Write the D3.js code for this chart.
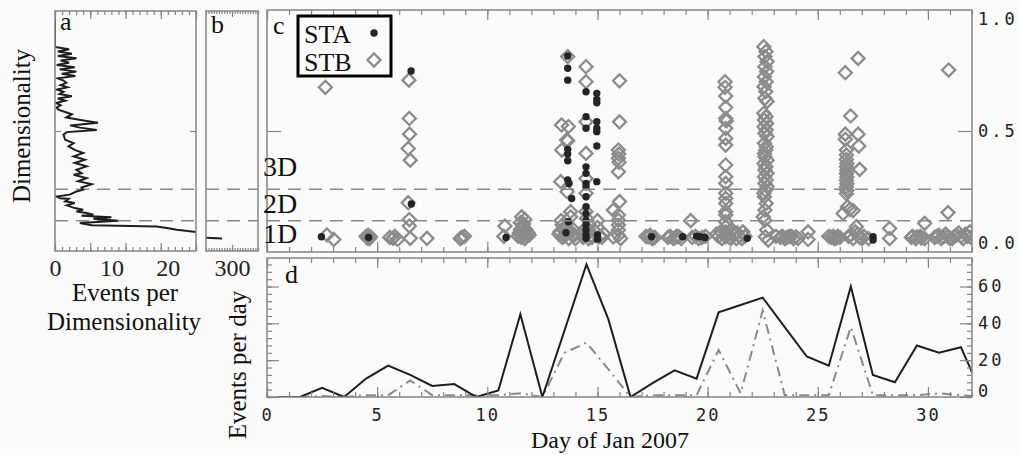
<!DOCTYPE html>
<html><head><meta charset="utf-8">
<script src="https://cdn.jsdelivr.net/npm/d3@7"></script>
<style>body{margin:0;background:#fbfbfb;} svg{display:block}</style>
</head><body><svg id="chart" width="1019" height="455"></svg>
<script>
// ---------------- DATA ----------------
const days = [0.5,1.5,2.5,3.5,4.5,5.5,6.5,7.5,8.5,9.5,10.5,11.5,12.5,13.5,14.5,15.5,16.5,17.5,18.5,19.5,20.5,21.5,22.5,23.5,24.5,25.5,26.5,27.5,28.5,29.5,30.5,31.5,32.5];
const seriesSolid   = [0,0,5,0,10,17,12,6,7,0,3.5,45,0,36,72,42,0,7.5,14.5,10,46,50,54,38,22,17,60,12,8,28,24,27,0];
const seriesDashDot = [0,0,0.5,0,1,1,9,1,1,1,1,2,0,24,29.5,15,0,1,1,1,25.5,2,47,1,1,1,38,1,1,1,2,1,0];

const staPoints = [
 [2.47,0.028],[4.61,0.025],[6.54,0.768],[6.55,0.174],[10.85,0.025],
 [13.65,0.835],[13.65,0.78],[13.65,0.727],[13.65,0.418],[13.65,0.397],[13.65,0.367],[13.65,0.281],[13.71,0.266],[13.83,0.199],[13.68,0.095],[13.57,0.046],
 [14.48,0.675],[14.48,0.564],[14.48,0.512],[14.48,0.34],[14.48,0.311],[14.48,0.266],[14.48,0.251],[14.48,0.207],[14.48,0.162],[14.48,0.132],[14.48,0.102],[14.48,0.08],[14.48,0.058],[14.48,0.036],[14.48,0.021],
 [14.97,0.668],[14.97,0.641],[14.97,0.626],[14.97,0.541],[14.97,0.512],[14.97,0.497],[14.97,0.433],[14.97,0.274],[15.0,0.036],[15.0,0.016],
 [17.46,0.028],[18.87,0.028],[19.5,0.031],[19.66,0.028],[19.88,0.025],[21.8,0.021],[27.51,0.028],[27.51,0.013]
];

const stbPoints = [
 [2.65,0.695],[2.72,0.036],[3.03,0.016],
 [4.5,0.03],[4.65,0.02],[4.6,0.035],[4.7,0.028],[4.55,0.022],
 [5.57,0.025],[5.72,0.021],[5.93,0.016],[5.8,0.03],
 [6.44,0.727],[6.46,0.556],[6.47,0.486],[6.41,0.422],[6.5,0.37],[6.41,0.18],[6.46,0.105],[6.46,0.076],[6.5,0.021],
 [7.26,0.021],[8.77,0.02],[8.96,0.03],[8.85,0.025],
 [10.8,0.076],[10.75,0.03],
 [11.56,0.117],[11.7,0.105],[11.5,0.09],[11.6,0.07],[11.75,0.06],[11.45,0.045],[11.65,0.04],[11.8,0.03],[11.55,0.025],[11.7,0.02],[11.85,0.045],[11.4,0.03],[11.6,0.05],[11.9,0.035],[11.5,0.06],[11.65,0.085],
 [13.65,0.832],[13.68,0.52],[13.65,0.457],[13.38,0.415],[13.37,0.527],[13.6,0.46],[13.33,0.274],[13.62,0.229],[13.78,0.14],[13.78,0.117],[13.4,0.08],[13.25,0.04],[13.5,0.03],[13.7,0.02],[13.85,0.035],[13.6,0.05],[13.45,0.06],[13.9,0.06],[14.0,0.02],[13.4,0.025],
 [13.3,0.05],[13.55,0.04],[13.8,0.05],[13.95,0.035],[13.35,0.1],[13.5,0.07],
 [14.48,0.787],[14.48,0.72],[14.48,0.541],[14.48,0.4],[14.48,0.288],[14.48,0.222],[14.48,0.14],[14.5,0.11],[14.4,0.06],[14.55,0.04],[14.35,0.025],[14.6,0.02],[14.7,0.035],
 [14.3,0.04],[14.45,0.05],[14.75,0.025],[14.6,0.06],
 [15.0,0.1],[15.0,0.07],[15.1,0.03],[14.9,0.05],[15.2,0.025],[15.3,0.04],
 [16.0,0.724],[16.0,0.541],[15.95,0.415],[15.97,0.397],[15.95,0.378],[15.98,0.36],[15.95,0.318],[16.0,0.185],[15.72,0.147],[15.95,0.125],[15.95,0.102],[15.95,0.08],[15.95,0.058],[15.72,0.028],[15.95,0.035],[16.05,0.02],
 [17.3,0.028],[17.5,0.02],[17.4,0.035],[17.2,0.03],[17.6,0.025],[17.45,0.022],
 [18.2,0.025],[18.45,0.02],[18.6,0.03],[18.8,0.02],[18.3,0.03],[18.55,0.025],[18.7,0.028],
 [19.23,0.1],[19.3,0.025],[19.6,0.02],[19.9,0.03],[19.45,0.03],[19.75,0.025],
 [20.79,0.72],[20.79,0.695],[20.82,0.656],[20.82,0.605],[20.82,0.556],[20.85,0.545],[20.82,0.512],[20.82,0.467],[20.82,0.437],[20.82,0.348],[20.82,0.296],[20.82,0.266],[20.82,0.222],[20.82,0.199],[20.82,0.177],[20.82,0.14],[20.82,0.125],[20.82,0.095],[20.82,0.073],[20.82,0.05],[20.82,0.028],
 [20.5,0.03],[20.65,0.02],[21.0,0.025],[21.2,0.04],[21.3,0.02],[21.1,0.06],[21.45,0.03],[21.6,0.05],[21.55,0.02],
 [20.4,0.04],[20.6,0.05],[20.9,0.035],[21.05,0.02],[21.35,0.045],[21.7,0.03],
 [22.55,0.876],[22.65,0.855],[22.6,0.832],[22.7,0.81],[22.6,0.787],[22.68,0.765],[22.58,0.742],[22.66,0.72],[22.56,0.698],[22.64,0.676],[22.6,0.646],[22.7,0.632],[22.55,0.579],[22.65,0.564],[22.58,0.549],[22.68,0.534],[22.56,0.519],[22.66,0.504],[22.6,0.49],[22.7,0.475],[22.58,0.445],[22.66,0.43],[22.64,0.415],[22.58,0.4],[22.6,0.385],[22.7,0.37],[22.56,0.355],[22.64,0.34],[22.6,0.326],[22.7,0.311],[22.58,0.296],[22.66,0.281],[22.6,0.266],[22.7,0.252],[22.62,0.236],[22.55,0.222],[22.58,0.207],[22.66,0.177],[22.6,0.147],[22.52,0.117],[22.6,0.102],[22.68,0.058],[22.62,0.028],[22.75,0.013],
 [23.3,0.025],[23.5,0.02],[23.7,0.03],[23.9,0.02],[24.0,0.028],[23.1,0.03],[23.4,0.03],[23.6,0.025],[23.8,0.03],[24.1,0.02],
 [24.56,0.05],[24.56,0.016],
 [25.6,0.025],[25.75,0.02],[25.9,0.03],[25.5,0.03],[25.7,0.03],[25.85,0.022],[26.0,0.025],
 [26.25,0.76],[26.83,0.824],[26.49,0.567],[26.25,0.486],[26.83,0.486],[26.25,0.463],[26.86,0.433],[26.3,0.415],[26.3,0.393],[26.3,0.373],[26.32,0.355],[26.3,0.34],[26.32,0.325],[26.3,0.31],[26.32,0.295],[26.3,0.28],[26.32,0.265],[26.3,0.25],[26.32,0.235],[26.3,0.22],[26.9,0.329],[26.35,0.162],[26.15,0.132],[26.45,0.15],[26.6,0.145],[26.75,0.073],[26.7,0.05],[26.4,0.03],[26.6,0.02],[26.9,0.025],[27.1,0.03],[27.3,0.02],
 [26.5,0.035],[26.8,0.04],[27.0,0.02],
 [28.26,0.065],[28.26,0.02],
 [29.25,0.025],[29.45,0.02],[29.65,0.03],[29.85,0.088],[29.85,0.02],[29.3,0.03],[29.5,0.028],[29.7,0.022],
 [30.4,0.03],[30.6,0.02],[30.8,0.04],[30.94,0.772],[30.91,0.136],[31.0,0.02],[31.2,0.03],[31.4,0.045],[31.6,0.02],[31.8,0.03],[31.9,0.05],
 [30.3,0.025],[30.5,0.035],[30.7,0.028],[30.9,0.03],[31.1,0.02],[31.3,0.035],[31.5,0.03],[31.7,0.04],[31.95,0.025]
];

const histDim = [1.00,0.91,0.875,0.865,0.855,0.845,0.835,0.825,0.815,0.805,0.795,0.785,0.775,0.765,0.755,0.745,0.735,0.725,0.715,0.705,0.695,0.685,0.675,0.665,0.655,0.645,0.635,0.625,0.615,0.605,0.595,0.575,0.56,0.545,0.537,0.525,0.515,0.505,0.495,0.484,0.461,0.446,0.431,0.416,0.402,0.387,0.372,0.357,0.342,0.327,0.312,0.305,0.29,0.276,0.263,0.248,0.238,0.23,0.216,0.208,0.2,0.197,0.186,0.179,0.168,0.156,0.149,0.141,0.134,0.126,0.122,0.115,0.108,0.1,0.089,0.079,0.074,0.067,0.059,0.049,0.04,0.02];
const histCount = [0,0,0,2.5,0.5,3.0,0.5,3.8,1.0,2.5,0.3,3.5,0.8,3.8,1.2,3.6,0.5,1.5,2.0,1.0,2.2,0.3,1.5,0.8,3.0,0.5,1.8,0.2,1.0,0.3,0.6,3.0,2.0,5.6,7.6,2.7,4.4,7.4,2.1,1.5,1.8,3.3,2.4,3.5,5.0,3.3,5.3,3.5,5.6,3.8,4.7,3.3,5.6,4.1,6.5,4.7,5.0,3.8,2.6,0.3,0.9,2.4,1.8,3.5,2.1,3.5,5.0,3.8,5.6,6.8,4.7,10.0,6.8,11.2,4.4,6.5,18.0,19.8,21.6,25.1,120,281];

const dimThresholds = [0.24, 0.1];
const dimClassLabels = ["3D","2D","1D"];
const dayTicks = [0,5,10,15,20,25,30];
const dimTicks = [0.0,0.5,1.0];
const eventTicks = [0,20,40,60];
const histATicks = [0,10,20];
const histBTicks = [300];
const legendNames = ["STA","STB"];

// ---------------- LAYOUT ----------------
const svg = d3.select("#chart");
const serif = "'Liberation Serif','Times New Roman',serif";
const mono = "'DejaVu Sans Mono',monospace";
const borderCol = "#858585";
const stbCol = "#8c8c8c";
const staCol = "#242424";

const C = {l:267, r:972, t:10, b:252};
const D = {l:267, r:972, t:258, b:397};
const A = {l:55, r:196, t:11, b:251};
const B = {l:206, r:258, t:11, b:251};

const x = d3.scaleLinear([0,32],[C.l,C.r]);
const yDim = d3.scaleLinear([-0.04,1.04],[C.b,C.t]);
const yEv = d3.scaleLinear([0,75.5],[D.b,D.t]);
const xa = d3.scaleLinear([0,25],[A.l,A.r]);
const xb = d3.scaleLinear([250,350],[B.l,B.r]);

svg.append("rect").attr("width",1019).attr("height",455).attr("fill","#fbfbfb");

const defs = svg.append("defs");
function clip(id,p){defs.append("clipPath").attr("id",id).append("rect")
  .attr("x",p.l).attr("y",p.t).attr("width",p.r-p.l).attr("height",p.b-p.t);}
clip("ca",A);clip("cb",B);clip("cc",C);clip("cd",D);

function styleAxis(g){g.select(".domain").remove();
  g.selectAll(".tick line").attr("stroke",borderCol).attr("stroke-width",1.2);}
function ticks(axisFn, scale, vals, size, tx, ty){
  svg.append("g").attr("transform",`translate(${tx},${ty})`)
    .call(axisFn(scale).tickValues(vals).tickSize(size).tickFormat(""))
    .call(styleAxis).selectAll("text").remove();
}

// ---------- Panel c : scatter ----------
const gc = svg.append("g").attr("clip-path","url(#cc)");
dimThresholds.forEach(t=>{
  [[A.l,A.r],[B.l,B.r],[C.l,C.r]].forEach(([l,r])=>{
    svg.append("line").attr("x1",l).attr("x2",r).attr("y1",yDim(t)).attr("y2",yDim(t))
      .attr("stroke","#8a8a8a").attr("stroke-width",1.5).attr("stroke-dasharray","13,8");
  });
});
const diamond = "M0,-6.5L6.5,0L0,6.5L-6.5,0Z";
gc.selectAll("path.stb").data(stbPoints).join("path").attr("class","stb")
  .attr("d",diamond).attr("transform",d=>`translate(${x(d[0])},${yDim(d[1])})`)
  .attr("fill","none").attr("stroke",stbCol).attr("stroke-width",2.3);
gc.selectAll("circle.sta").data(staPoints).join("circle").attr("class","sta")
  .attr("cx",d=>x(d[0])).attr("cy",d=>yDim(d[1])).attr("r",3.7).attr("fill",staCol);

// ---------- Panel d : lines ----------
const gd = svg.append("g").attr("clip-path","url(#cd)");
const lineEv = d3.line().x(d=>x(d[0])).y(d=>yEv(d[1]));
gd.append("path").datum(days.map((d,i)=>[d,seriesDashDot[i]])).attr("d",lineEv)
  .attr("fill","none").attr("stroke","#8a8a8a").attr("stroke-width",2).attr("stroke-dasharray","10,5,2,5");
gd.append("path").datum(days.map((d,i)=>[d,seriesSolid[i]])).attr("d",lineEv)
  .attr("fill","none").attr("stroke","#1e1e1e").attr("stroke-width",2);

// ---------- Panels a,b : histogram ----------
const histPts = histDim.map((d,i)=>[histCount[i],d]);
svg.append("g").attr("clip-path","url(#ca)").append("path").datum(histPts)
  .attr("d",d3.line().x(d=>xa(d[0])).y(d=>yDim(d[1])))
  .attr("fill","none").attr("stroke","#1e1e1e").attr("stroke-width",2);
svg.append("g").attr("clip-path","url(#cb)").append("path").datum(histPts)
  .attr("d",d3.line().x(d=>xb(d[0])).y(d=>yDim(d[1])))
  .attr("fill","none").attr("stroke","#1e1e1e").attr("stroke-width",2);

// ---------- borders ----------
[A,B,C,D].forEach(p=>svg.append("rect").attr("x",p.l).attr("y",p.t)
  .attr("width",p.r-p.l).attr("height",p.b-p.t).attr("fill","none")
  .attr("stroke",borderCol).attr("stroke-width",1.5));

// ---------- ticks ----------
const dayMinor = d3.range(0,33,1);
[C.t,D.t].forEach(ty=>{
  ticks(d3.axisBottom,x,dayMinor,5,0,ty);
  ticks(d3.axisBottom,x,dayTicks,10,0,ty);
});
[C.b,D.b].forEach(ty=>{
  ticks(d3.axisTop,x,dayMinor,5,0,ty);
  ticks(d3.axisTop,x,dayTicks,10,0,ty);
});
ticks(d3.axisRight,yDim,[0.5],14,C.l,0);
ticks(d3.axisLeft,yDim,[0.5],14,C.r,0);
const evMinor = d3.range(0,76,4);
ticks(d3.axisRight,yEv,evMinor,5,D.l,0);
ticks(d3.axisRight,yEv,eventTicks,12,D.l,0);
ticks(d3.axisLeft,yEv,evMinor,5,D.r,0);
ticks(d3.axisLeft,yEv,eventTicks,12,D.r,0);
const aMinor = d3.range(0,25.01,1.25), aMajor = d3.range(0,25.01,6.25);
ticks(d3.axisBottom,xa,aMinor,4,0,A.t); ticks(d3.axisBottom,xa,aMajor,8,0,A.t);
ticks(d3.axisTop,xa,aMinor,4,0,A.b); ticks(d3.axisTop,xa,aMajor,8,0,A.b);
ticks(d3.axisRight,yDim,[0.5],6,A.l,0); ticks(d3.axisLeft,yDim,[0.5],6,A.r,0);
const bMinor = d3.range(250,351,5);
ticks(d3.axisBottom,xb,bMinor,3,0,B.t); ticks(d3.axisBottom,xb,histBTicks,6,0,B.t);
ticks(d3.axisTop,xb,bMinor,3,0,B.b); ticks(d3.axisTop,xb,histBTicks,6,0,B.b);

// ---------- tick labels ----------
function labelAxis(g,font,size,spacing){
  g.select(".domain").remove(); g.selectAll(".tick line").remove();
  g.selectAll("text").attr("font-family",font).attr("font-size",size)
    .attr("fill","#222").attr("letter-spacing",spacing);
}
svg.append("g").attr("transform",`translate(0,${D.b})`)
  .call(d3.axisBottom(x).tickValues(dayTicks).tickSize(0).tickPadding(12).tickFormat(d3.format("d")))
  .call(g=>labelAxis(g,mono,17,2));
svg.append("g").attr("transform",`translate(${C.r},0)`)
  .call(d3.axisRight(yDim).tickValues(dimTicks).tickSize(0).tickPadding(6).tickFormat(d3.format(".1f")))
  .call(g=>labelAxis(g,mono,17,3));
const evAx = svg.append("g").attr("transform",`translate(${D.r},0)`)
  .call(d3.axisRight(yEv).tickValues(eventTicks).tickSize(0).tickPadding(6).tickFormat(d3.format("d")))
  .call(g=>labelAxis(g,mono,17,3));
evAx.selectAll(".tick").filter(d=>d===0).select("text").attr("y",-6);
svg.append("g").attr("transform",`translate(0,${A.b})`)
  .call(d3.axisBottom(xa).tickValues(histATicks).tickSize(0).tickPadding(8).tickFormat(d3.format("d")))
  .call(g=>labelAxis(g,serif,24,0));
svg.append("g").attr("transform",`translate(0,${B.b})`)
  .call(d3.axisBottom(xb).tickValues(histBTicks).tickSize(0).tickPadding(8).tickFormat(d3.format("d")))
  .call(g=>labelAxis(g,serif,24,0));

// ---------- texts ----------
function txt(s,xx,yy,size,opts={}){
  const t = svg.append("text").attr("x",xx).attr("y",yy).text(s)
    .attr("font-family",opts.font||serif).attr("font-size",size).attr("fill","#111")
    .attr("text-anchor",opts.anchor||"start");
  if(opts.rotate) t.attr("transform",`rotate(-90,${xx},${yy})`);
  return t;
}
txt("a",60,30,26); txt("b",211,33,26); txt("c",273,34,26); txt("d",285,283,26);
txt(dimClassLabels[0],263,yDim(dimThresholds[0])-13,28);
txt(dimClassLabels[1],263,yDim(dimThresholds[1])-8,28);
txt(dimClassLabels[2],263,yDim(0),28);
txt("Dimensionality",30,126,25,{anchor:"middle",rotate:true});
txt("Events per day",246,365,25,{anchor:"middle",rotate:true});
txt("Events per",125,301,25,{anchor:"middle"});
txt("Dimensionality",124,330,25,{anchor:"middle"});
txt("Day of Jan 2007",610,448,24,{anchor:"middle"});

// ---------- legend ----------
svg.append("rect").attr("x",298).attr("y",16).attr("width",93).attr("height",60)
  .attr("fill","#fbfbfb").attr("stroke","#000").attr("stroke-width",3);
txt(legendNames[0],304,43,26); txt(legendNames[1],304,71,26);
svg.append("circle").attr("cx",374).attr("cy",33).attr("r",3.7).attr("fill",staCol);
svg.append("path").attr("d",diamond).attr("transform","translate(374,60)")
  .attr("fill","none").attr("stroke",stbCol).attr("stroke-width",2.3);
</script></body></html>
